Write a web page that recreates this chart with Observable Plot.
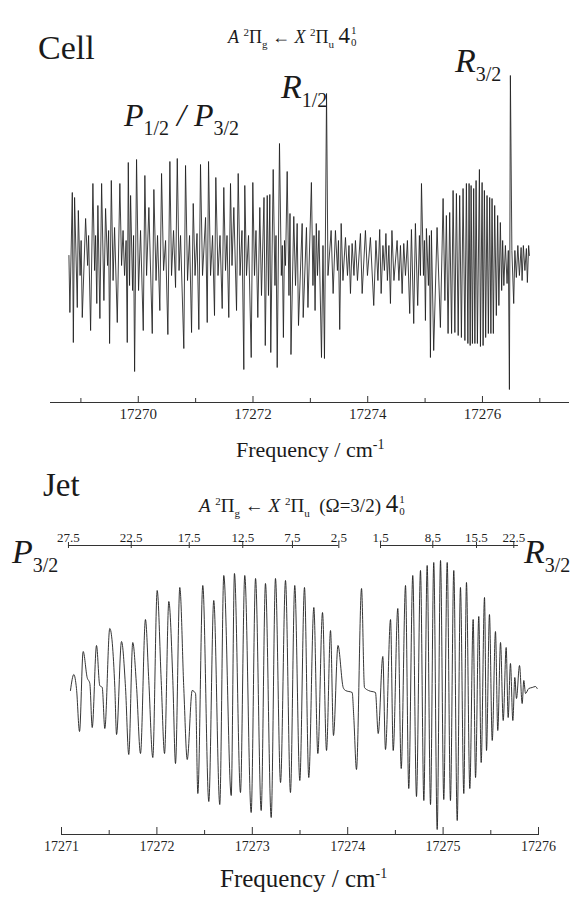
<!DOCTYPE html>
<html><head><meta charset="utf-8">
<script src="https://cdn.jsdelivr.net/npm/d3@7"></script>
<script src="https://cdn.jsdelivr.net/npm/@observablehq/plot@0.6"></script>
<style>
body{margin:0;background:#fff}
#wrap{position:relative;width:573px;height:898px;font-family:"Liberation Serif","Times New Roman",serif;color:#1a1a1a}
.pl{position:absolute;left:0}
.lbl{position:absolute;line-height:1;white-space:nowrap}
.it{font-style:italic}
.sb{font-style:normal;font-size:20px;position:relative;top:9px}
.t sup,.t sub{font-size:11px;line-height:0}
.st{display:inline-flex;flex-direction:column;font-size:11px;line-height:12px;vertical-align:9px;margin-left:1px}
.ax sup{font-size:14px;line-height:0}
</style></head>
<body><div id="wrap">
<div id="cellPlot" class="pl" style="top:0"></div>
<div id="jetPlot" class="pl" style="top:460px"></div>

<div class="lbl" style="left:38px;top:31px;font-size:34px">Cell</div>
<div class="lbl t" style="left:228px;top:24px;font-size:18px"><span class="it">A</span> <sup>2</sup>Π<sub>g</sub> ← <span class="it">X</span> <sup>2</sup>Π<sub>u</sub> <span style="font-size:23px">4</span><span class="st"><span>1</span><span>0</span></span></div>
<div class="lbl it" style="left:124px;top:99px;font-size:32px">P<span class="sb">1/2</span> / P<span class="sb">3/2</span></div>
<div class="lbl it" style="left:281px;top:70px;font-size:34px">R<span class="sb">1/2</span></div>
<div class="lbl it" style="left:455px;top:44px;font-size:34px">R<span class="sb">3/2</span></div>
<div class="lbl ax" style="left:236px;top:439px;font-size:22px">Frequency / cm<sup>-1</sup></div>

<div class="lbl" style="left:43px;top:469px;font-size:33px">Jet</div>
<div class="lbl t" style="left:199px;top:491px;font-size:19px"><span class="it">A</span> <sup>2</sup>Π<sub>g</sub> ← <span class="it">X</span> <sup>2</sup>Π<sub>u</sub> &nbsp;(Ω=3/2) <span style="font-size:25px">4</span><span class="st"><span>1</span><span>0</span></span></div>
<div class="lbl it" style="left:12px;top:535px;font-size:34px">P<span class="sb">3/2</span></div>
<div class="lbl it" style="left:524px;top:535px;font-size:34px">R<span class="sb">3/2</span></div>
<div class="lbl ax" style="left:220px;top:866px;font-size:25px">Frequency / cm<sup>-1</sup></div>
</div>
<script>
// ---------- data (frequency cm^-1, signal arb. units) ----------
const cellTicks = [17270, 17272, 17274, 17276];
const cellMinorTicks = [17269, 17271, 17273, 17275, 17277];
const jetTicks = [17271, 17272, 17273, 17274, 17275, 17276];
const jetMinorTicks = [17271.5, 17272.5, 17273.5, 17274.5, 17275.5];

const pCombJ = ["27.5", "22.5", "17.5", "12.5", "7.5", "2.5"];
const pCombFreq = [17271.073, 17271.731, 17272.339, 17272.900, 17273.421, 17273.907];
const rCombJ = ["1.5", "8.5", "15.5", "22.5"];
const rCombFreq = [17274.344, 17274.892, 17275.350, 17275.741];
const rCombEnd = 17275.79;

const cellSpectrum = [
[17268.791,0],[17268.808,-57],[17268.850,63],[17268.868,-87],[17268.890,58],[17268.937,-52],[17268.955,45],[17268.986,-20],[17269.004,15],[17269.024,-62],
[17269.082,37],[17269.117,-10],[17269.134,20],[17269.169,-75],[17269.209,72],[17269.239,-15],[17269.256,20],[17269.277,-48],[17269.296,50],[17269.331,-63],
[17269.361,72],[17269.401,-45],[17269.430,47],[17269.465,-10],[17269.483,25],[17269.500,-88],[17269.530,75],[17269.561,-25],[17269.587,28],[17269.634,-67],
[17269.679,72],[17269.709,-10],[17269.735,25],[17269.761,-20],[17269.788,15],[17269.808,-87],[17269.826,93],[17269.848,-30],[17269.866,60],[17269.901,-35],
[17269.918,20],[17269.936,-116],[17269.970,96],[17270.005,-35],[17270.040,25],[17270.087,-75],[17270.115,80],[17270.145,-20],[17270.185,48],[17270.244,-78],
[17270.272,66],[17270.310,-25],[17270.336,20],[17270.376,-55],[17270.406,82],[17270.441,-15],[17270.476,15],[17270.516,-79],[17270.551,94],[17270.580,-20],
[17270.615,25],[17270.650,-32],[17270.680,97],[17270.711,-15],[17270.737,20],[17270.794,-93],[17270.824,90],[17270.859,-25],[17270.894,20],[17270.929,-77],
[17270.958,52],[17270.990,-20],[17271.024,22],[17271.056,-74],[17271.085,91],[17271.120,-20],[17271.173,38],[17271.202,-67],[17271.225,94],[17271.260,-20],
[17271.295,20],[17271.329,-60],[17271.352,78],[17271.390,-20],[17271.425,20],[17271.463,-53],[17271.491,68],[17271.521,-15],[17271.547,20],[17271.578,-62],
[17271.608,72],[17271.634,-10],[17271.666,48],[17271.713,-55],[17271.742,82],[17271.774,-20],[17271.808,25],[17271.840,-114],[17271.857,70],[17271.887,-20],
[17271.922,20],[17271.969,-102],[17271.997,73],[17272.026,-20],[17272.052,25],[17272.084,-62],[17272.119,48],[17272.148,-40],[17272.192,58],[17272.214,-90],
[17272.248,60],[17272.270,-40],[17272.293,61],[17272.310,-97],[17272.352,86],[17272.383,-30],[17272.401,20],[17272.422,-112],[17272.462,112],[17272.494,-20],
[17272.511,10],[17272.530,-82],[17272.549,15],[17272.567,-10],[17272.596,84],[17272.627,-40],[17272.645,42],[17272.662,-99],[17272.711,39],[17272.741,-30],
[17272.770,32],[17272.793,-70],[17272.857,32],[17272.875,-62],[17272.932,28],[17272.958,-52],[17273.018,73],[17273.045,-30],[17273.063,20],[17273.082,-55],
[17273.103,32],[17273.124,-20],[17273.150,25],[17273.194,-102],[17273.220,10],[17273.246,-103],[17273.282,162],[17273.307,-20],[17273.362,25],[17273.397,-38],
[17273.437,25],[17273.472,-15],[17273.490,15],[17273.512,-74],[17273.537,32],[17273.568,-25],[17273.612,18],[17273.647,-20],[17273.673,10],[17273.699,-38],
[17273.728,12],[17273.760,-20],[17273.786,15],[17273.821,-25],[17273.873,22],[17273.903,-38],[17273.960,25],[17273.995,-20],[17274.047,18],[17274.105,-50],
[17274.143,15],[17274.178,-25],[17274.209,26],[17274.234,-38],[17274.265,10],[17274.291,-15],[17274.317,22],[17274.343,-25],[17274.369,10],[17274.396,-48],
[17274.422,25],[17274.457,-25],[17274.512,15],[17274.544,-25],[17274.571,10],[17274.600,-38],[17274.628,12],[17274.658,-20],[17274.692,15],[17274.732,-58],
[17274.762,26],[17274.802,-68],[17274.831,32],[17274.871,-50],[17274.901,20],[17274.919,-20],[17274.937,72],[17274.972,-20],[17274.988,15],[17275.006,-65],
[17275.023,27],[17275.058,-30],[17275.076,20],[17275.093,-102],[17275.110,25],[17275.150,-95],[17275.209,28],[17275.267,-72],[17275.314,57],[17275.345,-45],
[17275.371,40],[17275.401,-78],[17275.429,43],[17275.462,-78],[17275.488,65],[17275.519,-77],[17275.546,62],[17275.577,-80],[17275.603,60],[17275.633,-82],
[17275.662,67],[17275.694,-85],[17275.720,72],[17275.746,-88],[17275.767,72],[17275.786,-90],[17275.802,70],[17275.825,-88],[17275.847,67],[17275.868,-88],
[17275.889,75],[17275.912,-88],[17275.947,86],[17275.965,-91],[17275.994,73],[17276.011,-90],[17276.034,65],[17276.056,-82],[17276.080,60],[17276.103,-78],
[17276.126,58],[17276.147,-78],[17276.167,57],[17276.190,-78],[17276.213,50],[17276.242,-60],[17276.265,40],[17276.286,-50],[17276.312,33],[17276.335,-35],
[17276.352,15],[17276.373,-30],[17276.400,10],[17276.429,-28],[17276.451,5],[17276.470,-134],[17276.487,180],[17276.513,5],[17276.545,-48],[17276.565,5],
[17276.591,-22],[17276.617,10],[17276.644,-20],[17276.674,8],[17276.691,-25],[17276.713,10],[17276.740,-15],[17276.766,7],[17276.783,-27],[17276.805,10],
[17276.818,0]
];

const jetSpectrum = [
[17271.094,0],[17271.129,16],[17271.157,2],[17271.189,-41],[17271.227,39],[17271.269,13],[17271.297,7],[17271.322,-37],[17271.367,45],[17271.401,5],
[17271.427,3],[17271.454,-38],[17271.506,62],[17271.559,3],[17271.577,-44],[17271.629,49],[17271.671,3],[17271.705,-64],[17271.747,48],[17271.786,5],
[17271.828,-63],[17271.880,71],[17271.915,10],[17271.957,-67],[17272.003,100],[17272.045,10],[17272.080,-63],[17272.125,89],[17272.167,10],[17272.195,-73],
[17272.240,103],[17272.282,2],[17272.318,-69],[17272.370,0],[17272.405,-3],[17272.429,-103],[17272.481,105],[17272.544,-111],[17272.596,90],[17272.659,-114],
[17272.701,115],[17272.779,-105],[17272.813,117],[17272.876,-102],[17272.921,115],[17272.988,-122],[17273.034,112],[17273.093,-120],[17273.138,107],[17273.198,-127],
[17273.243,112],[17273.296,-92],[17273.348,110],[17273.400,-102],[17273.445,105],[17273.498,-90],[17273.547,103],[17273.592,-87],[17273.645,83],[17273.687,-63],
[17273.736,78],[17273.778,-60],[17273.820,60],[17273.851,-45],[17273.898,45],[17273.953,3],[17273.977,0],[17274.047,-2],[17274.064,-27],[17274.092,-79],
[17274.145,102],[17274.176,3],[17274.218,0],[17274.291,-2],[17274.320,-43],[17274.368,34],[17274.396,-59],[17274.449,71],[17274.477,-60],[17274.525,82],
[17274.561,-78],[17274.606,105],[17274.640,-98],[17274.682,115],[17274.721,-106],[17274.763,120],[17274.798,-110],[17274.833,125],[17274.868,-114],[17274.902,128],
[17274.938,-139],[17274.973,130],[17275.007,-109],[17275.043,128],[17275.077,-110],[17275.112,120],[17275.148,-130],[17275.182,103],[17275.217,-103],[17275.245,108],
[17275.280,-98],[17275.315,71],[17275.340,-87],[17275.374,74],[17275.399,-72],[17275.434,93],[17275.455,-60],[17275.486,76],[17275.515,-50],[17275.549,59],
[17275.573,-40],[17275.602,48],[17275.630,-30],[17275.661,43],[17275.682,-27],[17275.706,27],[17275.731,-30],[17275.752,13],[17275.769,-8],[17275.801,25],
[17275.829,-13],[17275.846,10],[17275.864,-3],[17275.898,2],[17275.934,3],[17275.968,4],[17275.986,2]
];

// ---------- rendering ----------
const FONT = '"Liberation Serif","Times New Roman",serif';
const INK = "#1f1f1f";

const cellY = [-147, 235];
const cellH = 460, cellMT = 20, cellMB = 58;
const cellInner = cellH - cellMT - cellMB;

const cellPlot = Plot.plot({
  width: 573, height: cellH,
  marginLeft: 50, marginRight: 5, marginTop: cellMT, marginBottom: cellMB,
  x: {domain: [17268.47, 17277.5], axis: null},
  y: {domain: cellY, axis: null},
  style: {fontFamily: FONT, background: "transparent", color: INK},
  marks: [
    Plot.frame({anchor: "bottom", stroke: "#333", strokeWidth: 1}),
    Plot.tickX(cellTicks, {x: d => d, insetTop: cellInner - 6, stroke: "#333"}),
    Plot.tickX(cellMinorTicks, {x: d => d, insetTop: cellInner - 4, stroke: "#333"}),
    Plot.text(cellTicks, {x: d => d, frameAnchor: "bottom", dy: 16, text: d => String(d), fontSize: 15, fill: INK}),
    Plot.line(cellSpectrum, {x: d => d[0], y: d => d[1], stroke: INK, strokeWidth: 0.85})
  ]
});
document.getElementById("cellPlot").append(cellPlot);

const jetY = [-144, 145];
const jetH = 438, jetMT = 85, jetMB = 64;
const jetInner = jetH - jetMT - jetMB;
const combLines = [
  {y: jetY[1], x1: pCombFreq[0], x2: pCombFreq[pCombFreq.length - 1]},
  {y: jetY[1], x1: rCombFreq[0], x2: rCombEnd}
];
const combTicks = pCombFreq.map((f, i) => ({f, j: pCombJ[i]}))
  .concat(rCombFreq.map((f, i) => ({f, j: rCombJ[i]})));

const jetPlot = Plot.plot({
  width: 573, height: jetH,
  marginLeft: 61, marginRight: 35, marginTop: jetMT, marginBottom: jetMB,
  x: {domain: [17271, 17276], axis: null},
  y: {domain: jetY, axis: null},
  style: {fontFamily: FONT, background: "transparent", color: INK, overflow: "visible"},
  marks: [
    Plot.frame({anchor: "bottom", stroke: "#333", strokeWidth: 1}),
    Plot.tickX(jetTicks, {x: d => d, insetTop: jetInner - 7, stroke: "#333"}),
    Plot.tickX(jetMinorTicks, {x: d => d, insetTop: jetInner - 4, stroke: "#333"}),
    Plot.text(jetTicks, {x: d => d, frameAnchor: "bottom", dy: 16, text: d => String(d), fontSize: 14, fill: INK}),
    Plot.ruleY(combLines, {y: "y", x1: "x1", x2: "x2", stroke: "#333", strokeWidth: 1}),
    Plot.ruleX(combTicks, {x: "f", y1: () => jetY[1], y2: () => jetY[1], insetTop: -3, insetBottom: -3, stroke: "#333"}),
    Plot.text(combTicks, {x: "f", frameAnchor: "top", dy: -13, text: "j", fontSize: 13, fill: INK}),
    Plot.line(jetSpectrum, {x: d => d[0], y: d => d[1], stroke: INK, strokeWidth: 0.9, curve: "monotone-x"})
  ]
});
document.getElementById("jetPlot").append(jetPlot);
</script>
</body></html>
